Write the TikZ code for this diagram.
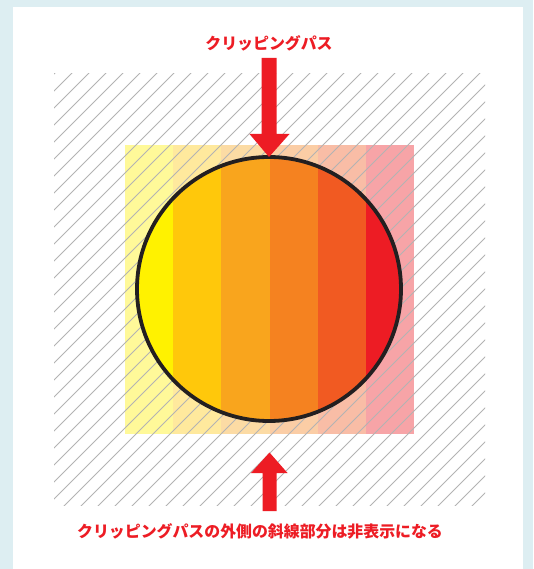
\documentclass[tikz,border=0pt]{standalone}
\usepackage{fontspec}
\newfontfamily\cjk{Noto Sans CJK JP}
\definecolor{bgblue}{HTML}{DDEEF2}
\definecolor{cred}{HTML}{ED1C24}
\definecolor{sa}{HTML}{FFF200}
\definecolor{sb}{HTML}{FFC80B}
\definecolor{sc}{HTML}{F9A51D}
\definecolor{sd}{HTML}{F58220}
\definecolor{se}{HTML}{F15A22}
\definecolor{sf}{HTML}{ED1C24}
\definecolor{hatchgray}{HTML}{B3B3B3}
\definecolor{ringblack}{HTML}{231F20}
\tikzset{
  hatchline/.style={draw=hatchgray, line width=0.9pt},
  bigarrow/.style={fill=cred, draw=none},
  label/.style={text=cred, font=\cjk\bfseries\fontsize{15.9}{18}\selectfont, inner sep=0pt},
  ring/.style={draw=ringblack, line width=3.8pt}
}
\begin{document}
\begin{tikzpicture}[x=1pt,y=-1pt]
\useasboundingbox (0,0) rectangle (533,569);
% background and panel
\fill[bgblue] (0,0) rectangle (533,569);
\fill[white] (13,7) rectangle (523,569);
% pale stripes (outside the clipping path)
\foreach \c [count=\i from 0] in {sa,sb,sc,sd,se,sf}{
  \fill[\c, opacity=0.4] ({125+\i*48.17},145) rectangle ({125+(\i+1)*48.17},434);
}
% hatching
\begin{scope}
  \clip (54,74) rectangle (485,505);
  \foreach \k in {0,...,52}{
    \pgfmathsetmacro{\cc}{128+17*\k}
    \draw[hatchline] ({\cc-510},510) -- ({\cc-70},70);
  }
\end{scope}
% clipped content
\begin{scope}
  \clip (269,289) circle[radius=132];
  \foreach \c [count=\i from 0] in {sa,sb,sc,sd,se,sf}{
    \fill[\c] ({125+\i*48.17},145) rectangle ({125+(\i+1)*48.17},434);
  }
\end{scope}
\node[ring, circle, minimum size=264pt, inner sep=0pt] (clip) at (269,289) {};
% arrows
\fill[bigarrow] (261.5,58) -- (276.5,58) -- (276.5,134) -- (289.5,134) -- (269,157) -- (249.5,134) -- (261.5,134) -- cycle;
\fill[bigarrow] (262.5,511) -- (276.5,511) -- (276.5,473) -- (287.5,473) -- (269.5,452.5) -- (251,473) -- (262.5,473) -- cycle;
% labels
\node[label] (top) at (269,43) {クリッピングパス};
\node[label] (bottom) at (260,531) {クリッピングパスの外側の斜線部分は非表示になる};
\end{tikzpicture}
\end{document}
